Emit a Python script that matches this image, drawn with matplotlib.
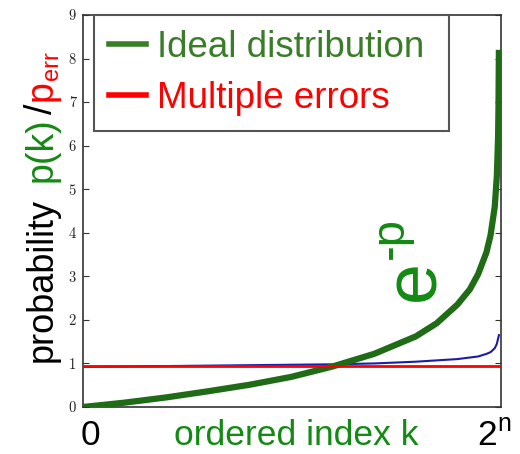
import matplotlib
matplotlib.use("Agg")
import matplotlib.pyplot as plt
from matplotlib.lines import Line2D

plt.rcParams['font.family'] = ['Liberation Sans', 'DejaVu Sans']
plt.rcParams['mathtext.default'] = 'regular'

# values (x = fraction of the ordered index range)
ideal_x = [0.0, 0.1, 0.2, 0.3, 0.4, 0.5, 0.6, 0.7, 0.8, 0.85, 0.9, 0.93,
           0.95, 0.97, 0.98, 0.99, 0.995, 0.998, 0.999, 0.9995, 1.0]
ideal_y = [0.0, 0.1, 0.22, 0.36, 0.51, 0.69, 0.93, 1.22, 1.62, 1.92, 2.35, 2.7,
           3.05, 3.55, 3.95, 4.6, 5.3, 6.2, 6.9, 7.6, 8.2]

measured_x = [0.0, 0.1, 0.2, 0.3, 0.4, 0.5, 0.6, 0.7, 0.8, 0.9, 0.95,
              0.97, 0.98, 0.99, 0.995, 1.0]
measured_y = [0.92, 0.93, 0.94, 0.95, 0.96, 0.97, 0.98, 1.0, 1.04, 1.1, 1.16,
              1.22, 1.26, 1.35, 1.45, 1.65]

err_x = [0.0, 1.0]
err_y = [0.94, 0.94]

yticks = [0, 1, 2, 3, 4, 5, 6, 7, 8, 9]

W, H = 520, 454
green_txt = '#138a13'
fig = plt.figure(figsize=(5.2, 4.54), dpi=100)
ax = fig.add_axes([83 / W, 1 - 407 / H, 418 / W, 392 / H])

ax.plot(ideal_x, ideal_y, color='#1f6b16', lw=4.5, solid_capstyle='butt', zorder=3)
ax.plot(measured_x, measured_y, color='#1c1ca8', lw=1.5, zorder=2)
ax.plot(err_x, err_y, color='#ff0000', lw=2, zorder=4)

ax.set_xlim(0, 1.005)
ax.set_ylim(0, 9)
ax.set_xticks([])
ax.set_yticks(yticks)
ax.set_yticklabels([str(t) for t in yticks], fontfamily='cmr10', fontsize=10.5,
                   color='#222222')
ax.tick_params(axis='y', direction='in', length=4, width=0.8, pad=5,
               right=True, colors='#333333', labelcolor='#222222')
for s in ax.spines.values():
    s.set_color('#333333')
    s.set_linewidth(1.2)

handles = [Line2D([], [], color='#3a7d28', lw=4),
           Line2D([], [], color='#ff0000', lw=4)]
leg = ax.legend(handles, ['Ideal distribution', 'Multiple errors'],
                loc='upper left', mode='expand',
                bbox_to_anchor=(11 / 418, 0.0, 355 / 418, 1.0), borderaxespad=0,
                fontsize=26.5, handlelength=1.0, handletextpad=0.3,
                labelspacing=0.45, borderpad=0.4, fancybox=False, framealpha=1,
                labelcolor=['#3a7d28', '#ff0000'])
leg.get_frame().set_edgecolor('#555555')
leg.get_frame().set_linewidth(1.5)


def px(x, y):
    return x / W, 1 - y / H


# y label built from coloured pieces, rotated and chained upward
renderer = fig.canvas.get_renderer()
fig.text(*px(52, 362), 'probability', rotation=90, rotation_mode='anchor',
         ha='left', va='baseline', fontsize=26, color='black')
ylab = [('p(k)', 27, green_txt, 0, 0),
        ('/', 27, 'black', 0, 3),
        ('p', 27, '#ff0000', 0, 3),
        ('err', 17, '#ff0000', 6, 0)]
ycur = 182
for txt, size, col, drop, gap in ylab:
    ycur -= gap
    t = fig.text(*px(52 + drop, ycur), txt, rotation=90, rotation_mode='anchor',
                 ha='left', va='baseline', fontsize=size, color=col)
    ycur -= t.get_window_extent(renderer=renderer).height

# x labels
fig.text(*px(90, 445), '0', ha='center', va='baseline', fontsize=25.5)
fig.text(*px(296, 445), 'ordered index k', ha='center', va='baseline',
         fontsize=25.5, color=green_txt)
fig.text(*px(477, 445), '$2^n$', ha='left', va='baseline', fontsize=25.5)

# exponent annotation
fig.text(*px(434, 301), 'e', rotation=90, rotation_mode='anchor',
         ha='left', va='baseline', fontsize=53, color=green_txt)
fig.text(*px(403, 259), '-p', rotation=90, rotation_mode='anchor',
         ha='left', va='baseline', fontsize=34, color=green_txt)

fig.savefig('out.png', dpi=100)
